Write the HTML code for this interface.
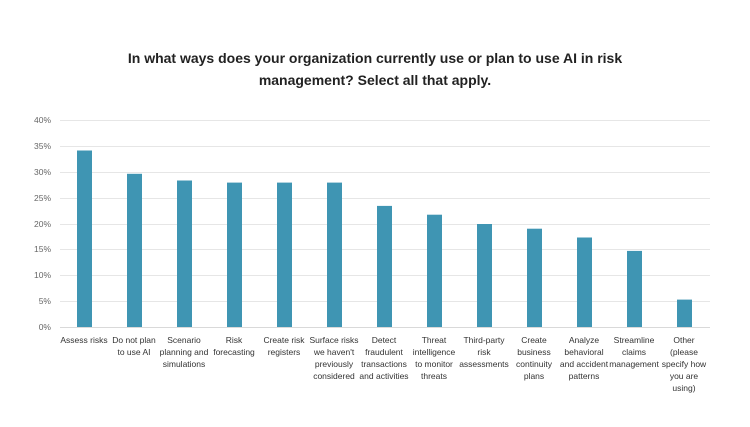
<!DOCTYPE html>
<html><head><meta charset="utf-8"><style>
body{margin:0;background:#fff;width:750px;height:422px;overflow:hidden;font-family:"Liberation Sans",sans-serif}
</style></head><body>
<svg width="750" height="422" xmlns="http://www.w3.org/2000/svg" font-family="Liberation Sans, sans-serif">
<text x="375" y="63" text-anchor="middle" font-size="14" font-weight="bold" fill="#222">In what ways does your organization currently use or plan to use AI in risk</text>
<text x="375" y="85" text-anchor="middle" font-size="14" font-weight="bold" fill="#222">management? Select all that apply.</text>
<g stroke="#e6e6e6" stroke-width="1">
<line x1="60" x2="710" y1="120.5" y2="120.5"/><line x1="60" x2="710" y1="146.5" y2="146.5"/>
<line x1="60" x2="710" y1="172.5" y2="172.5"/><line x1="60" x2="710" y1="198.5" y2="198.5"/>
<line x1="60" x2="710" y1="224.5" y2="224.5"/><line x1="60" x2="710" y1="249.5" y2="249.5"/>
<line x1="60" x2="710" y1="275.5" y2="275.5"/><line x1="60" x2="710" y1="301.5" y2="301.5"/>
<line x1="60" x2="710" y1="327.5" y2="327.5" stroke="#d9d9d9"/>
</g>
<g font-size="8.5" fill="#666" text-anchor="end">
<text x="51" y="123">40%</text><text x="51" y="149">35%</text><text x="51" y="175">30%</text>
<text x="51" y="201">25%</text><text x="51" y="227">20%</text><text x="51" y="252">15%</text>
<text x="51" y="278">10%</text><text x="51" y="304">5%</text><text x="51" y="330">0%</text>
</g>
<g fill="#3f95b3">
<rect x="77" y="150.5" width="15" height="176.5"/>
<rect x="127" y="173.8" width="15" height="153.2"/>
<rect x="177" y="180.5" width="15" height="146.5"/>
<rect x="227" y="182.6" width="15" height="144.4"/>
<rect x="277" y="182.6" width="15" height="144.4"/>
<rect x="327" y="182.6" width="15" height="144.4"/>
<rect x="377" y="205.9" width="15" height="121.1"/>
<rect x="427" y="214.7" width="15" height="112.3"/>
<rect x="477" y="224" width="15" height="103"/>
<rect x="527" y="228.7" width="15" height="98.3"/>
<rect x="577" y="237.5" width="15" height="89.5"/>
<rect x="627" y="250.9" width="15" height="76.1"/>
<rect x="677" y="299.6" width="15" height="27.4"/>
</g>
<g font-size="8.5" fill="#333" text-anchor="middle">
<text x="84" y="343">Assess risks</text>
<text x="134" y="343">Do not plan<tspan x="134" dy="12">to use AI</tspan></text>
<text x="184" y="343">Scenario<tspan x="184" dy="12">planning and</tspan><tspan x="184" dy="12">simulations</tspan></text>
<text x="234" y="343">Risk<tspan x="234" dy="12">forecasting</tspan></text>
<text x="284" y="343">Create risk<tspan x="284" dy="12">registers</tspan></text>
<text x="334" y="343">Surface risks<tspan x="334" dy="12">we haven't</tspan><tspan x="334" dy="12">previously</tspan><tspan x="334" dy="12">considered</tspan></text>
<text x="384" y="343">Detect<tspan x="384" dy="12">fraudulent</tspan><tspan x="384" dy="12">transactions</tspan><tspan x="384" dy="12">and activities</tspan></text>
<text x="434" y="343">Threat<tspan x="434" dy="12">intelligence</tspan><tspan x="434" dy="12">to monitor</tspan><tspan x="434" dy="12">threats</tspan></text>
<text x="484" y="343">Third-party<tspan x="484" dy="12">risk</tspan><tspan x="484" dy="12">assessments</tspan></text>
<text x="534" y="343">Create<tspan x="534" dy="12">business</tspan><tspan x="534" dy="12">continuity</tspan><tspan x="534" dy="12">plans</tspan></text>
<text x="584" y="343">Analyze<tspan x="584" dy="12">behavioral</tspan><tspan x="584" dy="12">and accident</tspan><tspan x="584" dy="12">patterns</tspan></text>
<text x="634" y="343">Streamline<tspan x="634" dy="12">claims</tspan><tspan x="634" dy="12">management</tspan></text>
<text x="684" y="343">Other<tspan x="684" dy="12">(please</tspan><tspan x="684" dy="12">specify how</tspan><tspan x="684" dy="12">you are</tspan><tspan x="684" dy="12">using)</tspan></text>
</g>
</svg>
</body></html>
